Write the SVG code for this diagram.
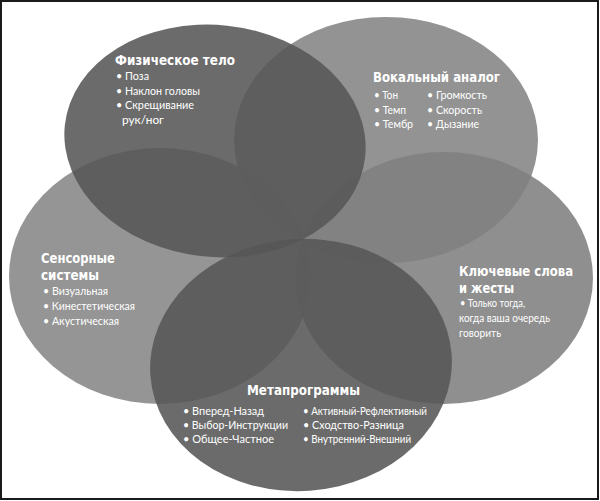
<svg xmlns="http://www.w3.org/2000/svg" width="600" height="501" viewBox="0 0 600 501">
<style>
.e{fill-opacity:0.88}
.t{font-family:"DejaVu Sans Condensed","DejaVu Sans",sans-serif;font-weight:bold;font-size:14px;fill:#fff}
.b{font-family:Lato,"Noto Sans",sans-serif;font-size:10.5px;fill:#fff}
</style>
<rect x="0" y="0" width="600" height="501" fill="#fff"/>
<rect x="1" y="1" width="597" height="498" fill="none" stroke="#1a1a1a" stroke-width="2"/>
<g id="connectors"></g>
<g id="vokal">
<ellipse class="e" cx="386" cy="140" rx="152" ry="123" fill="#848484"/>
</g>
<g id="klyuch">
<ellipse class="e" cx="444" cy="278" rx="149" ry="126" fill="#808080"/>
</g>
<g id="sensor">
<ellipse class="e" cx="160" cy="276" rx="151" ry="128" fill="#868686"/>
</g>
<g id="fizich">
<ellipse class="e" cx="215" cy="141" rx="151" ry="116" transform="rotate(6 215 141)" fill="#565656"/>
</g>
<g id="meta">
<ellipse class="e" cx="301" cy="365" rx="151" ry="126" transform="rotate(-4 301 365)" fill="#575757"/>
</g>
<g id="labels">
<text class="t" x="115" y="65" textLength="120" lengthAdjust="spacingAndGlyphs">Физическое тело</text>
<text class="b" x="116" y="80" textLength="33" lengthAdjust="spacingAndGlyphs">• Поза</text>
<text class="b" x="116" y="94.5" textLength="84" lengthAdjust="spacingAndGlyphs">• Наклон головы</text>
<text class="b" x="116" y="109" textLength="78" lengthAdjust="spacingAndGlyphs">• Скрещивание</text>
<text class="b" x="122" y="123.5" textLength="42" lengthAdjust="spacingAndGlyphs">рук/ног</text>

<text class="t" x="373" y="82" textLength="127" lengthAdjust="spacingAndGlyphs">Вокальный аналог</text>
<text class="b" x="374" y="99" textLength="24" lengthAdjust="spacingAndGlyphs">• Тон</text>
<text class="b" x="374" y="113.5" textLength="32" lengthAdjust="spacingAndGlyphs">• Темп</text>
<text class="b" x="374" y="128" textLength="39" lengthAdjust="spacingAndGlyphs">• Тембр</text>
<text class="b" x="427" y="99" textLength="60" lengthAdjust="spacingAndGlyphs">• Громкость</text>
<text class="b" x="427" y="113.5" textLength="55" lengthAdjust="spacingAndGlyphs">• Скорость</text>
<text class="b" x="427" y="128" textLength="52" lengthAdjust="spacingAndGlyphs">• Дызание</text>

<text class="t" x="459" y="276" textLength="114" lengthAdjust="spacingAndGlyphs">Ключевые слова</text>
<text class="t" x="459" y="292.5" textLength="55" lengthAdjust="spacingAndGlyphs">и жесты</text>
<text class="b" x="460" y="307" textLength="65" lengthAdjust="spacingAndGlyphs">• Только тогда,</text>
<text class="b" x="459" y="322" textLength="91" lengthAdjust="spacingAndGlyphs">когда ваша очередь</text>
<text class="b" x="459" y="337" textLength="42" lengthAdjust="spacingAndGlyphs">говорить</text>

<text class="t" x="41" y="263" textLength="74" lengthAdjust="spacingAndGlyphs">Сенсорные</text>
<text class="t" x="41" y="280" textLength="58" lengthAdjust="spacingAndGlyphs">системы</text>
<text class="b" x="43" y="295" textLength="65" lengthAdjust="spacingAndGlyphs">• Визуальная</text>
<text class="b" x="43" y="310" textLength="92" lengthAdjust="spacingAndGlyphs">• Кинестетическая</text>
<text class="b" x="43" y="325" textLength="76" lengthAdjust="spacingAndGlyphs">• Акустическая</text>

<text class="t" x="247" y="395" textLength="113" lengthAdjust="spacingAndGlyphs">Метапрограммы</text>
<text class="b" x="183" y="415" textLength="81" lengthAdjust="spacingAndGlyphs">• Вперед-Назад</text>
<text class="b" x="183" y="429" textLength="105" lengthAdjust="spacingAndGlyphs">• Выбор-Инструкции</text>
<text class="b" x="183" y="443" textLength="91" lengthAdjust="spacingAndGlyphs">• Общее-Частное</text>
<text class="b" x="303" y="415" textLength="124" lengthAdjust="spacingAndGlyphs">• Активный-Рефлективный</text>
<text class="b" x="303" y="429" textLength="101" lengthAdjust="spacingAndGlyphs">• Сходство-Разница</text>
<text class="b" x="303" y="443" textLength="108" lengthAdjust="spacingAndGlyphs">• Внутренний-Внешний</text>
</g>
</svg>
